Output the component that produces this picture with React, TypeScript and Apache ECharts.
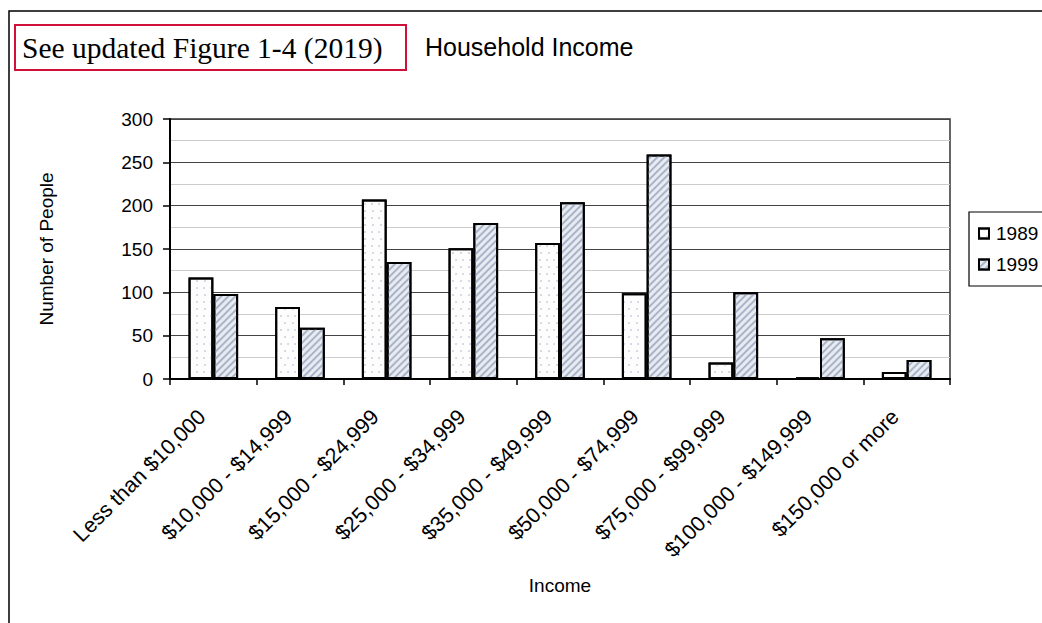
import React, { useEffect, useRef } from "react";
import * as echarts from "echarts";

const categories = [
  "Less than $10,000",
  "$10,000 - $14,999",
  "$15,000 - $24,999",
  "$25,000 - $34,999",
  "$35,000 - $49,999",
  "$50,000 - $74,999",
  "$75,000 - $99,999",
  "$100,000 - $149,999",
  "$150,000 or more",
];
const values1989 = [117, 83, 207, 151, 157, 99, 19, 2, 8];
const values1999 = [98, 59, 135, 180, 204, 259, 100, 47, 22];
const seriesNames = ["1989", "1999"];
const yTicks = { min: 0, max: 300, interval: 50 };

export default function App() {
  const ref = useRef<HTMLDivElement>(null);
  useEffect(() => {
    if (!ref.current) return;
    const chart = echarts.init(ref.current, null, { renderer: "svg" });
    const font = "Liberation Sans, Arial, sans-serif";
    chart.setOption({
      animation: false,
      backgroundColor: "#fff",
      grid: {
        left: 170,
        right: 92,
        top: 119,
        bottom: 244,
        show: true,
        borderColor: "#333",
        borderWidth: 1.5,
        backgroundColor: "transparent",
      },
      legend: {
        orient: "vertical",
        left: 969,
        top: 212,
        padding: [12, 30, 12, 9],
        borderColor: "#000",
        borderWidth: 1.2,
        itemWidth: 10,
        itemHeight: 10,
        itemGap: 12,
        icon: "rect",
        textStyle: { fontFamily: font, fontSize: 19, color: "#000", padding: [0, 0, 0, 2] },
        data: seriesNames,
      },
      xAxis: {
        type: "category",
        data: categories,
        name: "Income",
        nameLocation: "middle",
        nameGap: 197,
        nameTextStyle: { fontFamily: font, fontSize: 19, color: "#000" },
        axisLine: { lineStyle: { color: "#000", width: 2 } },
        axisTick: { show: true, length: 6, lineStyle: { color: "#000", width: 1.5 } },
        axisLabel: {
          rotate: 45,
          interval: 0,
          margin: 23,
          padding: [0, 16, 0, 0],
          fontFamily: font,
          fontSize: 21.5,
          color: "#000",
        },
      },
      yAxis: {
        type: "value",
        min: yTicks.min,
        max: yTicks.max,
        interval: yTicks.interval,
        name: "Number of People",
        nameLocation: "middle",
        nameGap: 114,
        nameTextStyle: { fontFamily: font, fontSize: 19, color: "#000" },
        axisLine: { show: true, lineStyle: { color: "#000", width: 2 } },
        axisTick: { show: true, length: 7, lineStyle: { color: "#000", width: 1.5 } },
        axisLabel: { fontFamily: font, fontSize: 19, color: "#000", margin: 17 },
        splitLine: { lineStyle: { color: "#444", width: 1 } },
        minorTick: { show: false, splitNumber: 2 },
        minorSplitLine: { show: true, lineStyle: { color: "#ccc", width: 1 } },
      },
      series: [
        {
          name: seriesNames[0],
          type: "bar",
          data: values1989,
          barGap: "0%",
          barCategoryGap: "42.8%",
          itemStyle: {
            color: "#fdfdfd",
            borderColor: "#000",
            borderWidth: 2,
            decal: {
              symbol: "circle",
              symbolSize: 0.7,
              dashArrayX: [[2, 5], [0, 3.5, 2, 1.5]],
              dashArrayY: [2, 5],
              color: "#98a2b8",
              rotation: 0,
            },
          },
        },
        {
          name: seriesNames[1],
          type: "bar",
          data: values1999,
          itemStyle: {
            color: "#e8ebf2",
            borderColor: "#000",
            borderWidth: 2,
            decal: {
              symbol: "rect",
              symbolSize: 1,
              dashArrayX: [1, 0],
              dashArrayY: [1.5, 2.5],
              rotation: -Math.PI / 4,
              color: "#aab4c8",
            },
          },
        },
      ],
      graphic: [
        {
          type: "rect",
          shape: { x: 9, y: 11, width: 1100, height: 700 },
          style: { fill: "none", stroke: "#000", lineWidth: 1.5 },
          silent: true,
        },
        {
          type: "rect",
          shape: { x: 15, y: 25, width: 391, height: 45 },
          style: { fill: "none", stroke: "#d0103a", lineWidth: 2 },
          silent: true,
        },
        {
          type: "text",
          x: 22,
          y: 48,
          style: {
            text: "See updated Figure 1-4 (2019)",
            fontFamily: "Liberation Serif, Times New Roman, serif",
            fontSize: 29.5,
            fill: "#000",
            verticalAlign: "middle",
          },
        },
        {
          type: "text",
          x: 425,
          y: 47,
          style: {
            text: "Household Income",
            fontFamily: font,
            fontSize: 25,
            fill: "#000",
            verticalAlign: "middle",
          },
        },
      ],
    });
    return () => chart.dispose();
  }, []);
  return (
    <div
      ref={ref}
      style={{ position: "fixed", left: 0, top: 0, width: 1042, height: 623 }}
    />
  );
}
